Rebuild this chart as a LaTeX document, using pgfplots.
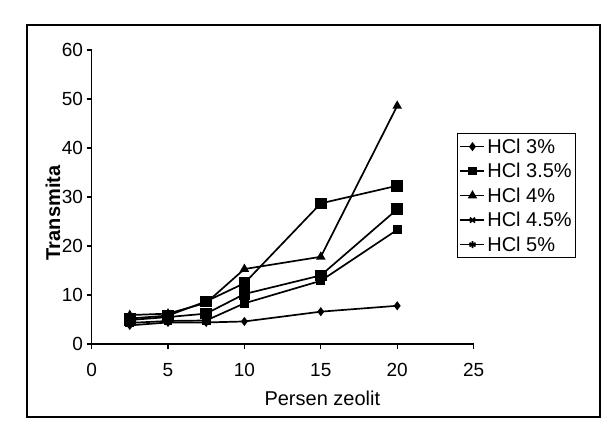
\documentclass[border=0pt]{standalone}
\usepackage{fontspec}
\setmainfont{Liberation Sans}
\usepackage{pgfplots}
\pgfplotsset{compat=1.18}
\begin{document}
\begin{tikzpicture}[x=1pt,y=1pt]
\useasboundingbox (-91.6,-90) rectangle (518.4,344);
% outer frame around the whole chart
\draw[line width=1.3pt] (-64.6,-73) rectangle (508.4,319);
\begin{axis}[
  at={(0,0)}, anchor=south west,
  scale only axis, width=382pt, height=294pt,
  xmin=0, xmax=25, ymin=0, ymax=60,
  xtick={0,5,10,15,20,25}, ytick={0,10,20,30,40,50,60},
  axis x line*=bottom, axis y line*=left,
  axis line style={-, line width=1.3pt},
  tick align=outside, major tick length=5pt,
  tick style={line width=1.3pt, black},
  /pgf/number format/assume math mode=true,
  ticklabel style={font=\fontsize{19}{19}\selectfont},
  xticklabel style={yshift=-11pt},
  xlabel={Persen zeolit}, ylabel={\bfseries Transmita},
  label style={font=\fontsize{20}{20}\selectfont},
  xlabel style={at={(axis description cs:0.604,-0.184)}, anchor=center},
  ylabel style={at={(axis description cs:-0.101,0.446)}, anchor=center},
  legend style={at={(axis description cs:0.9565,0.7177)}, anchor=north west,
    draw=black, line width=1.3pt, font=\fontsize{20}{20}\selectfont,
    row sep=4.5pt, inner xsep=2pt, inner ysep=3pt, cells={anchor=west}},
  legend cell align=left,
  legend image code/.code={%
    \draw[mark repeat=2, mark phase=2, #1]
      plot coordinates {(0pt,0pt) (12pt,0pt) (24pt,0pt)};},
  every axis plot/.append style={black, line width=1.7pt, mark options={solid, fill=black}},
]
% HCl 3%
\addplot[mark=diamond*, mark size=3.2pt] coordinates {
  (2.5,3.8) (5,4.4) (7.5,4.4) (10,4.6) (15,6.6) (20,7.8)};
\addlegendentry{HCl 3\%}
% HCl 3.5%
\addplot[mark=square*, mark size=5pt,
  legend image post style={mark size=3.5pt}] coordinates {
  (2.5,5.2) (5,5.8) (7.5,8.7) (10,12.4) (15,28.7) (20,32.3)};
\addlegendentry{HCl 3.5\%}
% HCl 4%
\addplot[mark=triangle*, mark size=3.8pt] coordinates {
  (2.5,5.9) (5,6.2) (7.5,8.4) (10,15.3) (15,17.8) (20,48.6)};
\addlegendentry{HCl 4\%}
% HCl 4.5%
\addplot[mark=square*, mark size=5pt,
  legend image post style={mark=x, mark size=3.5pt}] coordinates {
  (2.5,4.9) (5,5.5) (7.5,6.2) (10,10.2) (15,14.0) (20,27.5)};
\addlegendentry{HCl 4.5\%}
% HCl 5%
\addplot[mark=square*, mark size=3.5pt,
  legend image post style={mark=asterisk, mark size=3.5pt}] coordinates {
  (2.5,4.3) (5,4.7) (7.5,4.8) (10,8.3) (15,12.9) (20,23.3)};
\addlegendentry{HCl 5\%}
\end{axis}
\end{tikzpicture}
\end{document}
